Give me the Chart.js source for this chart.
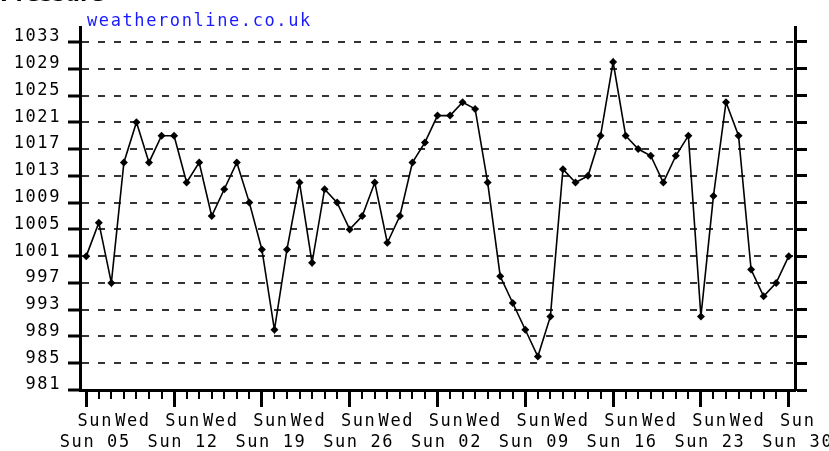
<!DOCTYPE html>
<html><head><meta charset="utf-8">
<script src="https://cdn.jsdelivr.net/npm/chart.js@4/dist/chart.umd.min.js"></script>
<style>
html,body{margin:0;padding:0;background:#fff;}
#wrap{position:relative;width:829px;height:451px;overflow:hidden;background:#fff;}
canvas{position:absolute;left:0;top:0;}
#title{position:absolute;left:0;top:-16px;font:bold 21px/21px "DejaVu Sans",sans-serif;color:#000;white-space:nowrap;}
#src{position:absolute;left:87px;top:12px;font:17px/17px "DejaVu Sans Mono",monospace;letter-spacing:1.6px;color:#1a1aff;white-space:nowrap;}
</style></head><body>
<div id="wrap">
<canvas id="c" width="829" height="451"></canvas>
<div id="title">Pressure</div>
<div id="src">weatheronline.co.uk</div>
</div>
<script>
// Day of week for each daily reading (57 days, Sunday to Sunday 30)
const days = ['Sun','Mon','Tue','Wed','Thu','Fri','Sat',
              'Sun','Mon','Tue','Wed','Thu','Fri','Sat',
              'Sun','Mon','Tue','Wed','Thu','Fri','Sat',
              'Sun','Mon','Tue','Wed','Thu','Fri','Sat',
              'Sun','Mon','Tue','Wed','Thu','Fri','Sat',
              'Sun','Mon','Tue','Wed','Thu','Fri','Sat',
              'Sun','Mon','Tue','Wed','Thu','Fri','Sat',
              'Sun','Mon','Tue','Wed','Thu','Fri','Sat',
              'Sun'];
// second-row labels under each Sunday
const sundayDates = ['Sun 05','Sun 12','Sun 19','Sun 26','Sun 02','Sun 09','Sun 16','Sun 23','Sun 30'];
// day names shown in the first row
const shownDays = ['Sun','Wed'];
// pressure readings (hPa)
const pressure = [1001,1006,997,1015,1021,1015,1019,1019,1012,1015,
                  1007,1011,1015,1009,1002,990,1002,1012,1000,1011,
                  1009,1005,1007,1012,1003,1007,1015,1018,1022,1022,
                  1024,1023,1012,998,994,990,986,992,1014,1012,
                  1013,1019,1030,1019,1017,1016,1012,1016,1019,992,
                  1010,1024,1019,999,995,997,1001];
// y axis tick labels
const yTicks = [981,985,989,993,997,1001,1005,1009,1013,1017,1021,1025,1029,1033];
const yMin = 981, yTop = 1035.24;

const LS = '1.6px';
const spacing = {
  id:'spacing',
  beforeUpdate(ch){ ch.ctx.letterSpacing = LS; },
  beforeLayout(ch){ ch.ctx.letterSpacing = LS; },
  beforeDraw(ch){ ch.ctx.letterSpacing = LS; }
};
const minorTicks = {
  id:'minorTicks',
  afterDraw(ch){
    const xs = ch.scales.x, ctx = ch.ctx;
    ctx.save();
    ctx.strokeStyle = '#000';
    ctx.lineWidth = 2;
    const y0 = xs.top;
    for (let i = 0; i < days.length; i++) {
      if (days[i] === 'Sun') continue;
      const x = Math.round(xs.getPixelForTick(i));
      ctx.beginPath();
      ctx.moveTo(x, y0);
      ctx.lineTo(x, y0 + 9);
      ctx.stroke();
    }
    ctx.restore();
  }
};

const font = {family:'"DejaVu Sans Mono", monospace', size:17, lineHeight:1.18};
const setYTicks = (s) => { s.ticks = yTicks.map(v => ({value:v})); };

new Chart(document.getElementById('c'), {
  type:'line',
  data:{
    labels: days,
    datasets:[{
      data: pressure,
      borderColor:'#000',
      borderWidth:1.6,
      tension:0,
      pointStyle:'rectRot',
      pointRadius:4,
      pointBackgroundColor:'#000',
      pointBorderColor:'#000',
      pointBorderWidth:0,
      xAxisID:'x', yAxisID:'y'
    }]
  },
  options:{
    responsive:false,
    animation:false,
    devicePixelRatio:1,
    layout:{padding:{top:27,left:0,right:0,bottom:0}},
    plugins:{legend:{display:false}, tooltip:{enabled:false}, title:{display:false}},
    scales:{
      x:{
        type:'category',
        offset:true,
        grid:{display:true, drawOnChartArea:false, offset:false, tickLength:17, tickWidth:3,
              tickColor:(c)=> days[c.index]==='Sun' ? '#000' : 'rgba(0,0,0,0)'},
        border:{display:true, color:'#000', width:3},
        ticks:{
          autoSkip:false, maxRotation:0, minRotation:0, padding:5, labelOffset:9,
          color:'#000', font:font,
          callback:function(v, i){
            const d = days[i];
            if (d === 'Sun') { return ['Sun', sundayDates[Math.round(i/7)]]; }
            if (shownDays.includes(d)) return [d];
            return '';
          }
        },
        afterFit(s){ s.height = 61; s.paddingLeft = 0; s.paddingRight = 0; }
      },
      y:{
        position:'left',
        min:yMin, max:yTop,
        afterBuildTicks:setYTicks,
        ticks:{padding:7, labelOffset:-5, color:'#000', font:font, callback:(v)=>String(v)},
        grid:{color:'#333', lineWidth:2, tickLength:12, tickWidth:3, tickColor:'#000', drawOnChartArea:true},
        border:{display:true, color:'#000', width:3, dash:[7,9]},
        afterFit(s){ s.width = 80; s.paddingTop = 0; s.paddingBottom = 0; }
      },
      y2:{
        position:'right',
        min:yMin, max:yTop,
        afterBuildTicks:setYTicks,
        ticks:{display:false},
        grid:{drawOnChartArea:false, tickLength:12, tickWidth:3, tickColor:'#000'},
        border:{display:true, color:'#000', width:3},
        afterFit(s){ s.width = 34; s.paddingTop = 0; s.paddingBottom = 0; }
      }
    }
  },
  plugins:[spacing, minorTicks]
});
</script>
</body></html>
